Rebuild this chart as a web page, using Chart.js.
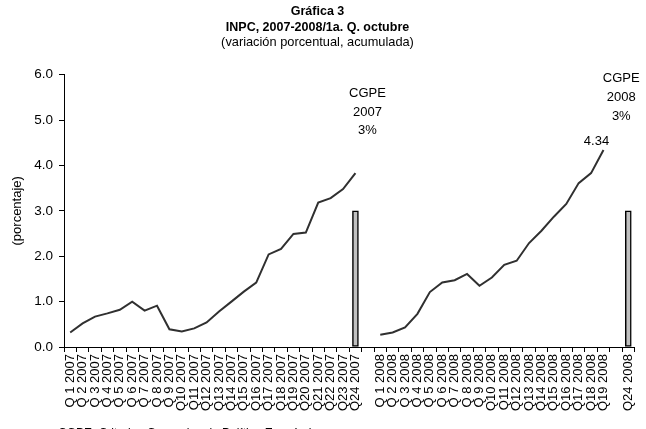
<!DOCTYPE html>
<html>
<head>
<meta charset="utf-8">
<script src="https://cdn.jsdelivr.net/npm/chart.js@4"></script>
<style>
  html, body { margin: 0; padding: 0; background: #fff; }
  #wrap { width: 646px; height: 429px; position: relative; }
</style>
</head>
<body>
<div id="wrap"><canvas id="chart" width="646" height="429"></canvas></div>
<script>
// ------------------------------------------------------
// DATA
// ------------------------------------------------------
const categories = [
  "Q 1 2007", "Q 2 2007", "Q 3 2007", "Q 4 2007", "Q 5 2007", "Q 6 2007",
  "Q 7 2007", "Q 8 2007", "Q 9 2007", "Q10 2007", "Q11 2007", "Q12 2007",
  "Q13 2007", "Q14 2007", "Q15 2007", "Q16 2007", "Q17 2007", "Q18 2007",
  "Q19 2007", "Q20 2007", "Q21 2007", "Q22 2007", "Q23 2007", "Q24 2007",
  "",
  "Q 1 2008", "Q 2 2008", "Q 3 2008", "Q 4 2008", "Q 5 2008", "Q 6 2008",
  "Q 7 2008", "Q 8 2008", "Q 9 2008", "Q10 2008", "Q11 2008", "Q12 2008",
  "Q13 2008", "Q14 2008", "Q15 2008", "Q16 2008", "Q17 2008", "Q18 2008",
  "Q19 2008",
  "",
  "Q24 2008"
];

const inpc2007 = [0.32, 0.52, 0.67, 0.74, 0.82, 1.00, 0.80, 0.91, 0.39, 0.34,
  0.41, 0.54, 0.78, 1.00, 1.22, 1.42, 2.04, 2.16, 2.49, 2.52, 3.18, 3.28, 3.48, 3.83];

const inpc2008 = [0.27, 0.32, 0.43, 0.73, 1.21, 1.42, 1.47, 1.61, 1.35, 1.53,
  1.81, 1.90, 2.29, 2.56, 2.87, 3.15, 3.61, 3.83, 4.34];

// meta CGPE (bars) at Q24 of each year
const metaLabels = ["Q24 2007", "Q24 2008"];
const metaValues = [3, 3];

const yTicks = [0, 1, 2, 3, 4, 5, 6];

// ------------------------------------------------------
// BUILD SERIES
// ------------------------------------------------------
function alignSeries(firstLabel, values) {
  const start = categories.indexOf(firstLabel);
  const out = [];
  for (let i = 0; i < categories.length; i++) {
    const k = i - start;
    out.push(k >= 0 && k < values.length ? values[k] : null);
  }
  return out;
}

const line2007 = alignSeries("Q 1 2007", inpc2007);
const line2008 = alignSeries("Q 1 2008", inpc2008);

const metaBars = categories.map(function (c) {
  const k = metaLabels.indexOf(c);
  return k >= 0 ? metaValues[k] : null;
});

const FONT = "'Liberation Sans', Arial, sans-serif";
Chart.defaults.font.family = FONT;
Chart.defaults.color = "#000";

// ------------------------------------------------------
// TEXT ANNOTATIONS
// ------------------------------------------------------
const notesPlugin = {
  id: "notes",
  afterDraw: function (chart) {
    const ctx = chart.ctx;
    const x = chart.scales.x;
    const y = chart.scales.y;
    ctx.save();
    ctx.fillStyle = "#000";
    ctx.font = "13px " + FONT;
    ctx.textAlign = "center";
    ctx.textBaseline = "middle";

    // CGPE 2007
    const x07 = x.getPixelForValue(categories.indexOf("Q24 2007")) + 12;
    ctx.fillText("CGPE", x07, 93);
    ctx.fillText("2007", x07, 112);
    ctx.fillText(metaValues[0] + "%", x07, 130);

    // CGPE 2008
    const x08 = x.getPixelForValue(categories.indexOf("Q24 2008")) - 7;
    ctx.fillText("CGPE", x08, 78);
    ctx.fillText("2008", x08, 97);
    ctx.fillText(metaValues[1] + "%", x08, 116);

    // last value label
    const lastIdx = categories.indexOf("Q19 2008");
    const lastVal = inpc2008[inpc2008.length - 1];
    ctx.fillText(lastVal.toFixed(2),
      x.getPixelForValue(lastIdx) - 7, y.getPixelForValue(lastVal) - 9);

    // footer (cut at bottom edge)
    ctx.textAlign = "left";
    ctx.textBaseline = "alphabetic";
    ctx.font = "12px " + FONT;
    ctx.fillText("CGPE: Criterios Generales de Política Económica.", 58, 437);
    ctx.restore();
  }
};

// ------------------------------------------------------
// CHART
// ------------------------------------------------------
new Chart(document.getElementById("chart"), {
  type: "bar",
  data: {
    labels: categories,
    datasets: [
      {
        type: "line",
        data: line2007,
        borderColor: "#303030",
        borderWidth: 2,
        pointRadius: 0,
        tension: 0,
        spanGaps: false
      },
      {
        type: "line",
        data: line2008,
        borderColor: "#303030",
        borderWidth: 2,
        pointRadius: 0,
        tension: 0,
        spanGaps: false
      },
      {
        type: "bar",
        data: metaBars,
        backgroundColor: "#c0c0c0",
        borderColor: "#000",
        borderWidth: 1.5,
        barThickness: 6,
        borderSkipped: false
      }
    ]
  },
  options: {
    responsive: false,
    animation: false,
    layout: { padding: { left: 0, right: 11, top: 0, bottom: 0 } },
    plugins: {
      legend: { display: false },
      tooltip: { enabled: false },
      title: {
        display: true,
        text: ["Gráfica 3", "INPC, 2007-2008/1a. Q. octubre"],
        font: { size: 12.5, weight: "bold", lineHeight: 1.25 },
        color: "#000",
        padding: { top: 4, bottom: 0 }
      },
      subtitle: {
        display: true,
        text: "(variación porcentual, acumulada)",
        font: { size: 12.8, lineHeight: 1.2 },
        color: "#000",
        padding: { top: 0, bottom: 24 }
      }
    },
    scales: {
      x: {
        offset: true,
        grid: {
          display: true,
          offset: true,
          drawOnChartArea: false,
          drawTicks: true,
          tickLength: 5,
          color: "#000"
        },
        border: { color: "#000", width: 1 },
        ticks: {
          autoSkip: false,
          maxRotation: 90,
          minRotation: 90,
          padding: 2,
          font: { size: 13 },
          color: "#000"
        },
        afterFit: function (scale) { scale.height = 82; }
      },
      y: {
        min: 0,
        max: 6,
        afterBuildTicks: function (scale) {
          scale.ticks = yTicks.map(function (v) { return { value: v }; });
        },
        grid: {
          display: true,
          drawOnChartArea: false,
          drawTicks: true,
          tickLength: 5,
          color: "#000"
        },
        border: { color: "#000", width: 1 },
        ticks: {
          padding: 6,
          font: { size: 13.5 },
          color: "#000",
          callback: function (v) { return Number(v).toFixed(1); }
        },
        title: {
          display: true,
          text: "(porcentaje)",
          font: { size: 13 },
          color: "#000",
          padding: { top: 10, bottom: 0 }
        },
        afterFit: function (scale) { scale.width = 64; }
      }
    }
  },
  plugins: [notesPlugin]
});
</script>
</body>
</html>
